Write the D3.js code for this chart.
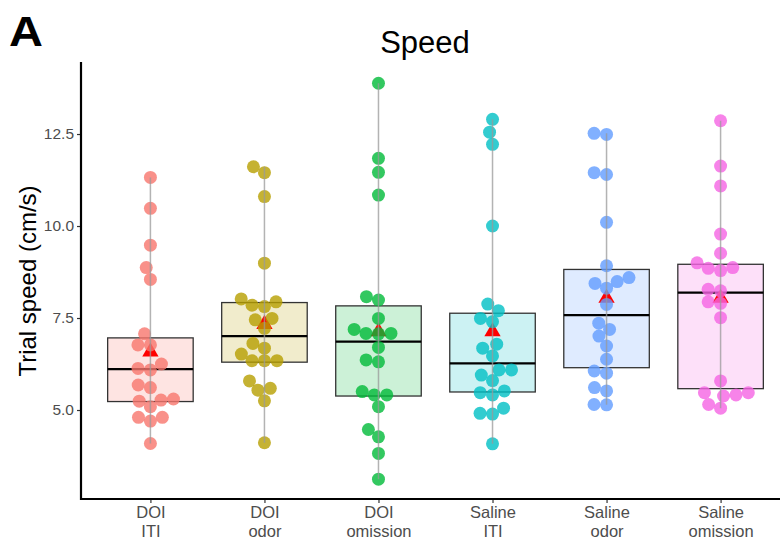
<!DOCTYPE html>
<html>
<head>
<meta charset="utf-8">
<script src="https://cdn.jsdelivr.net/npm/d3@7"></script>
<style>
  html, body { margin: 0; padding: 0; background: #fff; }
  svg { display: block; font-family: "Liberation Sans", Arial, sans-serif; }
</style>
</head>
<body>
<svg id="chart" width="780" height="546"></svg>
<script>
// Groups (two-line labels) and their colours
const groupTop = ["DOI", "DOI", "DOI", "Saline", "Saline", "Saline"];
const groupBottom = ["ITI", "odor", "omission", "ITI", "odor", "omission"];
const groupColors = ["#F8766D", "#B79F00", "#00BA38", "#00BFC4", "#619CFF", "#F564E3"];

// Per-trial speeds (cm/s)
const doiIti = [11.32, 10.48, 9.48, 8.87, 8.55, 7.07, 6.77, 6.77, 6.25, 6.13, 6.09,
  5.68, 5.61, 5.30, 5.27, 5.24, 5.09, 4.80, 4.80, 4.70, 4.09];
const doiOdor = [11.61, 11.45, 10.80, 8.99, 8.02, 7.94, 7.85, 7.81, 7.49, 7.45, 7.22,
  6.81, 6.68, 6.52, 6.34, 6.34, 6.34, 5.79, 5.59, 5.54, 5.25, 4.11];
const doiOmission = [13.88, 11.84, 11.46, 10.84, 8.08, 7.99, 7.49, 7.19, 7.08, 7.08, 7.07,
  6.70, 6.36, 6.31, 5.50, 5.41, 5.41, 5.09, 4.47, 4.27, 3.82, 3.12];
const salineIti = [12.90, 12.55, 12.22, 10.00, 7.88, 7.70, 7.49, 7.40, 6.79, 6.68, 6.47,
  6.09, 6.09, 5.95, 5.80, 5.52, 5.47, 5.41, 5.05, 4.91, 4.89, 4.08];
const salineOdor = [12.52, 12.49, 11.45, 11.40, 10.10, 8.92, 8.60, 8.49, 8.44, 8.31, 7.87,
  7.36, 7.19, 7.01, 6.74, 6.38, 6.06, 6.00, 5.61, 5.52, 5.15, 5.14];
const salineOmission = [12.86, 11.63, 11.09, 9.78, 9.26, 9.00, 8.87, 8.85, 8.79, 8.28, 8.24,
  7.94, 7.90, 7.51, 5.79, 5.47, 5.47, 5.41, 5.38, 5.15, 5.05];
const groupValues = [doiIti, doiOdor, doiOmission, salineIti, salineOdor, salineOmission];

// Box summaries: lower hinge, median, upper hinge, mean
const boxQ1 = [5.23, 6.30, 5.38, 5.49, 6.15, 5.58];
const boxMedian = [6.11, 7.01, 6.86, 6.27, 7.58, 8.19];
const boxQ3 = [6.96, 7.92, 7.83, 7.63, 8.82, 8.96];
const groupMean = [6.58, 7.33, 7.13, 7.13, 8.04, 8.04];

const yTicks = [5.0, 7.5, 10.0, 12.5];

const svg = d3.select("#chart");
const keys = groupTop.map((d, i) => i);

const x = d3.scalePoint().domain(keys).range([82, 789]).padding(0.6);
const y = d3.scaleLinear().domain([2.56, 14.43]).range([499.8, 63]);
const boxW = x.step() * 0.75;

// Panel label and title
svg.append("text").attr("transform", "translate(9,46) scale(1.12,1)")
  .attr("font-size", 42).attr("font-weight", "bold").attr("fill", "#000").text("A");
svg.append("text").attr("x", 425).attr("y", 53).attr("text-anchor", "middle")
  .attr("font-size", 31).attr("fill", "#000").text("Speed");

const clipId = "panel";
svg.append("clipPath").attr("id", clipId).append("rect")
  .attr("x", 81).attr("y", 40).attr("width", 720).attr("height", 460);
const plot = svg.append("g").attr("clip-path", `url(#${clipId})`);

// simple beeswarm layout: place each point as close to the centre as possible
function swarm(values, diameter) {
  const order = values.map((v, i) => i).sort((a, b) => values[a] - values[b]);
  const placed = [];
  const out = new Array(values.length);
  order.forEach(i => {
    const py = y(values[i]);
    const cands = [0];
    placed.forEach(p => {
      const dy = Math.abs(p.y - py);
      if (dy < diameter) {
        const dx = Math.sqrt(diameter * diameter - dy * dy);
        cands.push(p.x + dx, p.x - dx);
      }
    });
    cands.sort((a, b) => Math.abs(a) - Math.abs(b) || a - b);
    let bx = 0;
    for (const c of cands) {
      const ok = placed.every(p => (p.x - c) ** 2 + (p.y - py) ** 2 >= diameter * diameter - 0.01);
      if (ok) { bx = c; break; }
    }
    placed.push({ x: bx, y: py });
    out[i] = { v: values[i], dx: bx };
  });
  return out;
}

keys.forEach(i => {
  const cx = x(i);
  const vals = groupValues[i];
  const col = groupColors[i];
  const g = plot.append("g");
  // box
  g.append("rect")
    .attr("x", cx - boxW / 2).attr("width", boxW)
    .attr("y", y(boxQ3[i])).attr("height", y(boxQ1[i]) - y(boxQ3[i]))
    .attr("fill", col).attr("fill-opacity", 0.2)
    .attr("stroke", "#333").attr("stroke-width", 1.3);
  g.append("line")
    .attr("x1", cx - boxW / 2).attr("x2", cx + boxW / 2)
    .attr("y1", y(boxMedian[i])).attr("y2", y(boxMedian[i]))
    .attr("stroke", "#000").attr("stroke-width", 2.2);
  // mean marker
  g.append("path")
    .attr("d", d3.symbol(d3.symbolTriangle, 115)())
    .attr("transform", `translate(${cx},${y(groupMean[i])})`)
    .attr("fill", "#FF0000");
  // points
  g.selectAll("circle").data(swarm(vals, 12.5)).join("circle")
    .attr("cx", d => cx + d.dx).attr("cy", d => y(d.v)).attr("r", 6.5)
    .attr("fill", col).attr("fill-opacity", 0.8);
  // vertical range line through the group
  g.append("line")
    .attr("x1", cx).attr("x2", cx)
    .attr("y1", y(d3.max(vals))).attr("y2", y(d3.min(vals)))
    .attr("stroke", "#9a9a9a").attr("stroke-opacity", 0.75).attr("stroke-width", 1.5);
});

// Axes
const yAxis = svg.append("g").attr("transform", "translate(81,0)")
  .call(d3.axisLeft(y).tickValues(yTicks).tickFormat(d3.format(".1f")).tickSize(4).tickPadding(3));
yAxis.select(".domain").remove();
yAxis.selectAll(".tick line").attr("stroke", "#333").attr("stroke-width", 1.2);
yAxis.selectAll(".tick text").attr("fill", "#4d4d4d").attr("font-size", 15.5)
  .attr("font-family", "'Liberation Sans', Arial, sans-serif");

const xAxis = svg.append("g").attr("transform", "translate(0,499)")
  .call(d3.axisBottom(x).tickSize(4).tickFormat(() => ""));
xAxis.select(".domain").remove();
xAxis.selectAll(".tick line").attr("stroke", "#333").attr("stroke-width", 1.2);
xAxis.selectAll(".tick text").each(function (d) {
  const t = d3.select(this).attr("y", 0).attr("dy", null)
    .attr("fill", "#4d4d4d").attr("font-size", 16.5)
    .attr("font-family", "'Liberation Sans', Arial, sans-serif");
  t.append("tspan").attr("x", 0).attr("y", 19).text(groupTop[d]);
  t.append("tspan").attr("x", 0).attr("y", 38).text(groupBottom[d]);
});

// axis lines
svg.append("path")
  .attr("d", `M81,62 L81,499 L780,499`)
  .attr("fill", "none").attr("stroke", "#000").attr("stroke-width", 2.2);

// y axis title
svg.append("text")
  .attr("transform", `translate(36,281) rotate(-90)`)
  .attr("text-anchor", "middle").attr("font-size", 24).attr("fill", "#000")
  .text("Trial speed (cm/s)");
</script>
</body>
</html>
